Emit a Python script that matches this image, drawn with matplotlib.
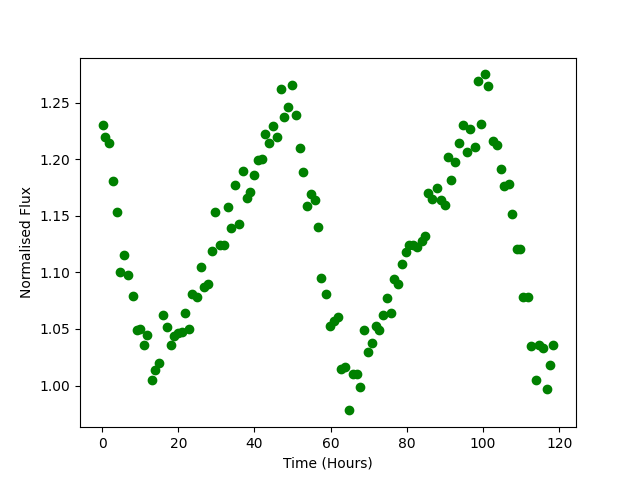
import matplotlib
matplotlib.use("Agg")
import matplotlib.pyplot as plt

# observation times (hours) and normalised flux values
time_hours = [0.1, 0.8, 1.8, 2.9, 4.0, 4.7, 5.8, 6.9, 8.0, 9.1,
              9.9, 10.9, 11.9, 13.0, 13.9, 14.8, 15.9, 16.9, 18.0, 18.9,
              19.9, 21.0, 21.8, 22.9, 23.6, 24.8, 25.9, 26.8, 27.7, 28.8,
              29.7, 31.0, 31.9, 33.0, 33.8, 34.8, 35.9, 36.9, 38.0, 38.8,
              39.8, 40.9, 41.9, 42.8, 43.8, 44.8, 45.9, 46.9, 47.8, 48.8,
              49.8, 50.9, 51.9, 52.8, 53.8, 54.8, 55.9, 56.8, 57.5, 58.8,
              59.8, 60.8, 61.8, 62.7, 63.8, 64.8, 65.9, 66.8, 67.7, 68.8,
              69.8, 70.9, 71.8, 72.7, 73.8, 74.8, 75.9, 76.6, 77.6, 78.6,
              79.7, 80.6, 81.7, 82.8, 83.9, 84.9, 85.6, 86.7, 87.8, 88.9,
              89.9, 90.7, 91.7, 92.7, 93.8, 94.8, 95.7, 96.7, 97.8, 98.8,
              99.6, 100.6, 101.3, 102.7, 103.8, 104.6, 105.6, 106.8, 107.7, 108.8,
              109.6, 110.6, 111.7, 112.6, 113.8, 114.7, 115.7, 116.7, 117.6, 118.5]

flux = [1.230, 1.220, 1.214, 1.181, 1.153, 1.100, 1.115, 1.098, 1.079, 1.049,
        1.050, 1.036, 1.045, 1.005, 1.014, 1.020, 1.062, 1.052, 1.036, 1.044,
        1.046, 1.047, 1.064, 1.050, 1.081, 1.078, 1.105, 1.087, 1.090, 1.119,
        1.153, 1.124, 1.124, 1.158, 1.139, 1.177, 1.143, 1.190, 1.166, 1.171,
        1.186, 1.199, 1.200, 1.222, 1.214, 1.229, 1.220, 1.262, 1.237, 1.246,
        1.266, 1.239, 1.210, 1.189, 1.159, 1.169, 1.164, 1.140, 1.095, 1.081,
        1.053, 1.057, 1.061, 1.015, 1.016, 0.978, 1.010, 1.010, 0.999, 1.049,
        1.030, 1.038, 1.053, 1.049, 1.062, 1.077, 1.064, 1.094, 1.090, 1.107,
        1.118, 1.124, 1.124, 1.122, 1.128, 1.132, 1.170, 1.165, 1.175, 1.164,
        1.160, 1.202, 1.182, 1.198, 1.214, 1.230, 1.206, 1.227, 1.211, 1.269,
        1.231, 1.275, 1.265, 1.216, 1.213, 1.191, 1.176, 1.178, 1.152, 1.121,
        1.121, 1.078, 1.078, 1.035, 1.005, 1.036, 1.033, 0.997, 1.018, 1.036]

fig, ax = plt.subplots(figsize=(6.4, 4.8), dpi=100)
ax.plot(time_hours, flux, 'o', color='green')
ax.set_xlabel("Time (Hours)")
ax.set_ylabel("Normalised Flux")

plt.savefig("out.png")
